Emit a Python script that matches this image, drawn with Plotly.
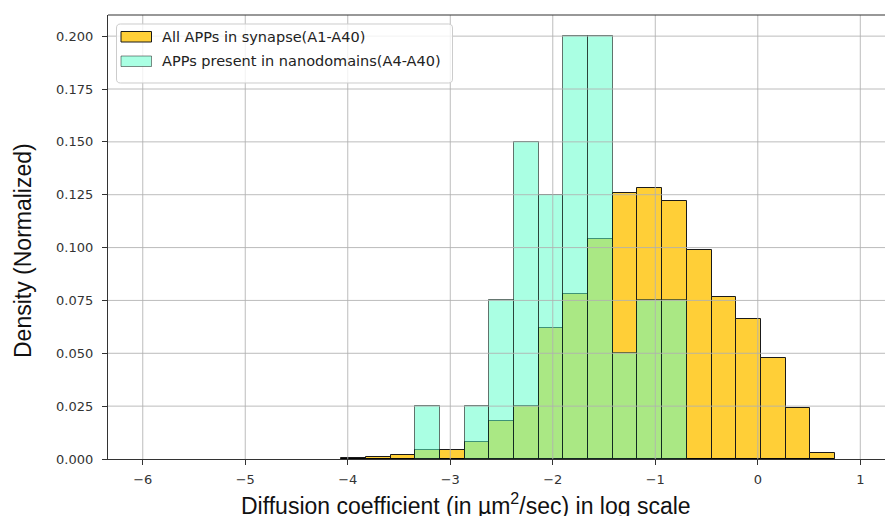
import plotly.graph_objects as go

# ---- data ----
bin_edges = [-4.065, -3.824, -3.583, -3.342, -3.101, -2.861, -2.620, -2.379, -2.138,
             -1.897, -1.656, -1.415, -1.174, -0.933, -0.692, -0.451, -0.211, 0.030,
             0.271, 0.512, 0.753]
all_apps = [0.0005, 0.001, 0.002, 0.0043, 0.0043, 0.008, 0.018, 0.025, 0.062, 0.078,
            0.104, 0.126, 0.128, 0.122, 0.099, 0.0765, 0.066, 0.048, 0.024, 0.0027]
nano_apps = [0, 0, 0, 0.025, 0, 0.025, 0.075, 0.150, 0.125, 0.200,
             0.200, 0.050, 0.075, 0.075, 0, 0, 0, 0, 0, 0]
x_ticks = [-6, -5, -4, -3, -2, -1, 0, 1]
x_tick_text = ["\u22126", "\u22125", "\u22124", "\u22123", "\u22122", "\u22121", "0", "1"]
y_ticks = [0.0, 0.025, 0.05, 0.075, 0.1, 0.125, 0.15, 0.175, 0.2]
y_tick_text = ["0.000", "0.025", "0.050", "0.075", "0.100", "0.125", "0.150", "0.175", "0.200"]
legend_labels = ["All APPs in synapse(A1-A40)", "APPs present in nanodomains(A4-A40)"]

# ---- styling ----
W_FIG, H_FIG = 885, 516
L, T, B, R = 108, 15, 57, 0
PW, PH = W_FIG - L - R, H_FIG - T - B
ORANGE = "rgb(255,207,55)"
CYAN = "rgba(94,255,202,0.53)"
CYAN_EDGE = "rgba(0,0,0,0.55)"
GRID = "rgba(176,176,176,0.85)"
TICK_FONT = dict(family="DejaVu Sans", size=13, color="#333333")
LABEL_FONT = dict(family="Liberation Sans, Arial", size=23, color="#111111")
LEG_FONT = dict(family="DejaVu Sans", size=14.5, color="#222222")


def pxx(x):
    return (x - L) / PW


def pxy(y):
    return (T + PH - y) / PH


centers = [(a + b) / 2 for a, b in zip(bin_edges[:-1], bin_edges[1:])]
widths = [b - a for a, b in zip(bin_edges[:-1], bin_edges[1:])]

fig = go.Figure()
fig.add_trace(go.Bar(x=centers, y=all_apps, width=widths, name=legend_labels[0],
                     marker=dict(color=ORANGE, line=dict(color="#1a1a1a", width=1)),
                     showlegend=False))
fig.add_trace(go.Bar(x=centers, y=nano_apps, width=widths, name=legend_labels[1],
                     marker=dict(color=CYAN, line=dict(color=CYAN_EDGE, width=1)),
                     showlegend=False))

shapes = []
# grid above bars
for v in x_ticks:
    shapes.append(dict(type="line", xref="x", yref="paper", x0=v, x1=v, y0=0, y1=1,
                       line=dict(color=GRID, width=1), layer="above"))
for v in y_ticks[1:]:
    shapes.append(dict(type="line", xref="paper", yref="y", x0=0, x1=1, y0=v, y1=v,
                       line=dict(color=GRID, width=1), layer="above"))
# top spine
shapes.append(dict(type="line", xref="paper", yref="paper", x0=0, x1=1, y0=1, y1=1,
                   line=dict(color="#333333", width=1.2), layer="above"))

# legend box (rounded)
bx0, bx1, by0, by1, r = 116.5, 452.5, 24, 83, 4
pts = [("M", bx0 + r, by0), ("L", bx1 - r, by0), ("Q", bx1, by0, bx1, by0 + r),
       ("L", bx1, by1 - r), ("Q", bx1, by1, bx1 - r, by1), ("L", bx0 + r, by1),
       ("Q", bx0, by1, bx0, by1 - r), ("L", bx0, by0 + r), ("Q", bx0, by0, bx0 + r, by0)]
path = ""
for p in pts:
    cmd = p[0]
    coords = p[1:]
    s = []
    for i in range(0, len(coords), 2):
        s.append(f"{pxx(coords[i]):.5f},{pxy(coords[i+1]):.5f}")
    path += cmd + " ".join(s) + " "
path += "Z"
shapes.append(dict(type="path", xref="paper", yref="paper", path=path,
                   fillcolor="rgba(255,255,255,0.8)", line=dict(color="#cccccc", width=1),
                   layer="above"))
# legend patches
shapes.append(dict(type="rect", xref="paper", yref="paper",
                   x0=pxx(121), x1=pxx(151.5), y0=pxy(31.5), y1=pxy(42),
                   fillcolor=ORANGE, line=dict(color="#1a1a1a", width=1), layer="above"))
shapes.append(dict(type="rect", xref="paper", yref="paper",
                   x0=pxx(121), x1=pxx(151.5), y0=pxy(56), y1=pxy(66.5),
                   fillcolor="rgb(170,255,227)", line=dict(color="rgba(0,0,0,0.45)", width=1),
                   layer="above"))

annotations = [
    dict(text=legend_labels[0], xref="paper", yref="paper", x=pxx(161), y=pxy(37),
         xanchor="left", yanchor="middle", showarrow=False, borderpad=0, font=LEG_FONT),
    dict(text=legend_labels[1], xref="paper", yref="paper", x=pxx(161), y=pxy(61.5),
         xanchor="left", yanchor="middle", showarrow=False, borderpad=0, font=LEG_FONT),
    dict(text="Diffusion coefficient (in \u00b5m<sup>2</sup>/sec) in log scale",
         xref="paper", yref="paper", x=pxx(466), y=pxy(488), xanchor="center",
         yanchor="top", showarrow=False, borderpad=0, font=LABEL_FONT),
    dict(text="Density (Normalized)", xref="paper", yref="paper", x=pxx(23), y=pxy(251),
         xanchor="center", yanchor="middle", textangle=-90, showarrow=False,
         borderpad=0, font=LABEL_FONT),
]

fig.update_layout(
    width=W_FIG, height=H_FIG,
    margin=dict(l=L, r=R, t=T, b=B, pad=0),
    paper_bgcolor="white", plot_bgcolor="white",
    barmode="overlay", bargap=0,
    shapes=shapes, annotations=annotations,
    xaxis=dict(range=[-6.339, 1.241], tickvals=x_ticks, ticktext=x_tick_text,
               showgrid=False, zeroline=False, showline=True, linecolor="#333333",
               linewidth=1.2, ticks="outside", ticklen=5, tickwidth=1, tickcolor="#333333",
               tickfont=TICK_FONT, ticklabelstandoff=3, layer="above traces"),
    yaxis=dict(range=[0, 0.21], tickvals=y_ticks, ticktext=y_tick_text,
               showgrid=False, zeroline=False, showline=True, linecolor="#333333",
               linewidth=1.2, ticks="outside", ticklen=5, tickwidth=1, tickcolor="#333333",
               tickfont=TICK_FONT, ticklabelstandoff=6, layer="above traces"),
)

fig.write_html("out.html")
